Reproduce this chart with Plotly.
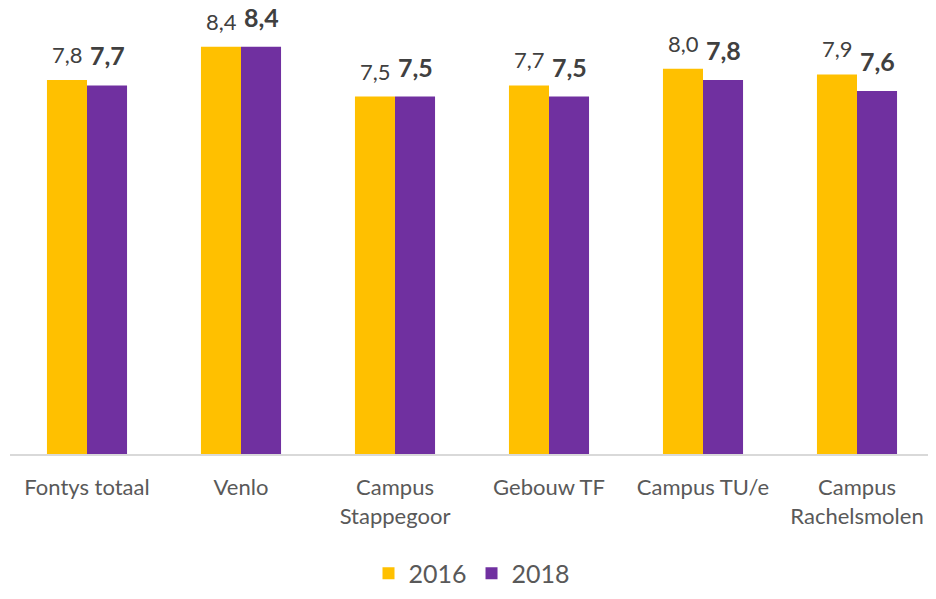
import plotly.graph_objects as go

categories = ["Fontys totaal", "Venlo", "Campus<br>Stappegoor", "Gebouw TF", "Campus TU/e", "Campus<br>Rachelsmolen"]
series_names = ["2016", "2018"]
values_2016 = [7.8, 8.4, 7.5, 7.7, 8.0, 7.9]
values_2018 = [7.7, 8.4, 7.5, 7.5, 7.8, 7.6]

colors = {"2016": "#FFC000", "2018": "#7030A0"}
FONT = "Lato"

fig = go.Figure()
for name, vals in zip(series_names, [values_2016, values_2018]):
    fig.add_trace(go.Bar(
        x=categories, y=vals, name=name,
        marker=dict(color=colors[name], line=dict(width=0)),
        hoverinfo="x+y",
    ))

def fmt(v):
    return f"{v:.1f}".replace(".", ",")

annotations = []
for cat, v16, v18 in zip(categories, values_2016, values_2018):
    annotations.append(dict(
        x=cat, y=v16, xref="x", yref="y", text=fmt(v16), showarrow=False,
        xanchor="center", yanchor="middle", xshift=-20, yshift=26, height=26,
        font=dict(family=FONT, size=22, color="#404040"),
    ))
    annotations.append(dict(
        x=cat, y=v18, xref="x", yref="y", text="<b>" + fmt(v18) + "</b>", showarrow=False,
        xanchor="center", yanchor="middle", xshift=20, yshift=30, height=28,
        font=dict(family=FONT, size=25, color="#404040"),
    ))

fig.update_layout(
    width=928, height=591,
    margin=dict(l=2, r=2, t=2, b=138),
    paper_bgcolor="white", plot_bgcolor="white",
    barmode="group", bargap=0.48, bargroupgap=0,
    font=dict(family=FONT, color="#595959"),
    showlegend=True,
    legend=dict(
        orientation="h", x=0.5, xanchor="center", y=-0.269, yanchor="middle",
        font=dict(family=FONT, size=25, color="#595959"),
        itemwidth=30,
    ),
    annotations=annotations,
    xaxis=dict(
        showline=True, linecolor="#D9D9D9", linewidth=1.5,
        ticks="", showgrid=False, zeroline=False,
        tickfont=dict(family=FONT, size=22, color="#595959"),
        ticklabelstandoff=13,
    ),
    yaxis=dict(visible=False, range=[1.06, 9.06], showgrid=False, zeroline=False),
)

fig.write_html("out.html")
